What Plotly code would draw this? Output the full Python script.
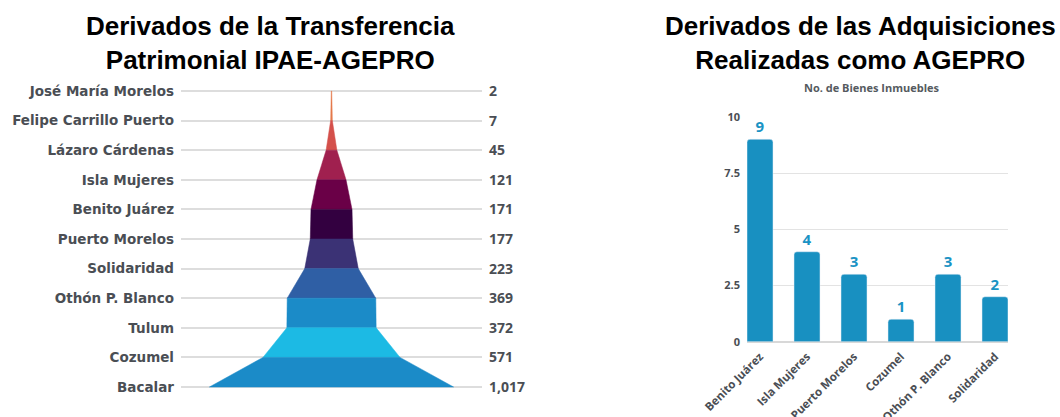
import plotly.graph_objects as go

# ---------------- data ----------------
funnel_cats = ["José María Morelos", "Felipe Carrillo Puerto", "Lázaro Cárdenas",
               "Isla Mujeres", "Benito Juárez", "Puerto Morelos", "Solidaridad",
               "Othón P. Blanco", "Tulum", "Cozumel", "Bacalar"]
funnel_vals = [2, 7, 45, 121, 171, 177, 223, 369, 372, 571, 1017]
segment_colors = ["#e4784a", "#d4504b", "#a0204f", "#6a0047", "#330040",
                  "#3b3275", "#2f5fa5", "#1b8bc8", "#1cbae4", "#1b8bc8"]

bar_cats = ["Benito Juárez", "Isla Mujeres", "Puerto Morelos", "Cozumel",
            "Othón P. Blanco", "Solidaridad"]
bar_vals = [9, 4, 3, 1, 3, 2]
bar_ticks = [0, 2.5, 5, 7.5, 10]
bar_tick_text = ["0", "2.5", "5", "7.5", "10"]

title_left = "Derivados de la Transferencia<br>Patrimonial IPAE-AGEPRO"
title_right = "Derivados de las Adquisiciones<br>Realizadas como AGEPRO"
subtitle_right = "No. de Bienes Inmuebles"

W, H = 1060, 417
name_font = dict(family="DejaVu Sans", size=13.5, color="#4a4e54", weight="bold")
value_font = dict(family="Open Sans", size=14, color="#4a4e54", weight="bold")

fig = go.Figure()

n = len(funnel_vals)
ypos = [n - 1 - k for k in range(n)]
for k in range(n - 1):
    v0, v1 = funnel_vals[k], funnel_vals[k + 1]
    y0, y1 = ypos[k], ypos[k + 1]
    fig.add_trace(go.Scatter(
        x=[-v0 / 2, v0 / 2, v1 / 2, -v1 / 2, -v0 / 2],
        y=[y0, y0, y1, y1, y0],
        mode="lines", fill="toself", fillcolor=segment_colors[k],
        line=dict(width=0.5, color=segment_colors[k]),
        hoverinfo="skip", xaxis="x", yaxis="y", showlegend=False))

# dummy trace for the right-hand value axis
fig.add_trace(go.Scatter(x=[0], y=[0], mode="markers", marker=dict(opacity=0),
                         xaxis="x", yaxis="y2", hoverinfo="skip", showlegend=False))

fig.add_trace(go.Bar(
    x=bar_cats, y=bar_vals, xaxis="x3", yaxis="y3",
    marker=dict(color="#1890c1", cornerradius=3),
    width=0.553,
    text=[str(v) for v in bar_vals], textposition="outside",
    textfont=dict(family="Open Sans", size=15, color="#1a93c4", weight="bold"),
    cliponaxis=False, showlegend=False))

ydom = [(H - 401.8) / H, (H - 76.2) / H]
fig.update_layout(
    width=W, height=H, margin=dict(l=0, r=0, t=0, b=0, autoexpand=False),
    paper_bgcolor="white", plot_bgcolor="white", showlegend=False,
    xaxis=dict(domain=[181 / W, 482 / W], range=[-627, 627], visible=False,
               fixedrange=True, automargin=False),
    yaxis=dict(domain=ydom, anchor="x", range=[-0.5, n - 0.5],
               tickvals=ypos, ticktext=funnel_cats, tickfont=name_font,
               showgrid=True, gridcolor="#dddddd", gridwidth=1.8,
               zeroline=False, showline=False, ticks="", ticklabelstandoff=6,
               automargin=False),
    yaxis2=dict(overlaying="y", side="right", anchor="x", range=[-0.5, n - 0.5],
                tickvals=ypos, ticktext=[f"{v:,}" for v in funnel_vals],
                tickfont=value_font, showgrid=False, zeroline=False,
                showline=False, ticks="", ticklabelstandoff=6, automargin=False),
    xaxis3=dict(domain=[747 / W, 1008 / W], anchor="y3", type="category",
                range=[-0.2766, 5.2766], tickangle=-45,
                tickfont=dict(family="Open Sans", size=11.5, color="#4a4e54", weight="bold"),
                showgrid=False, zeroline=False, showline=False, ticks="",
                ticklabelstandoff=5, automargin=False),
    yaxis3=dict(domain=[(H - 341.7) / H, (H - 116.8) / H], anchor="x3",
                range=[0, 10], tickvals=bar_ticks, ticktext=bar_tick_text,
                tickfont=dict(family="Open Sans", size=11, color="#4a4e54", weight="bold"),
                showgrid=True, gridcolor="#e3e3e3", gridwidth=1,
                zeroline=True, zerolinecolor="#d8d8d8", zerolinewidth=1.5,
                ticks="", ticklabelstandoff=6, automargin=False),
    annotations=[
        dict(text=title_left, x=270 / W, y=1 - 9 / H, xref="paper", yref="paper",
             xanchor="center", yanchor="top", showarrow=False,
             font=dict(family="Liberation Sans", size=26, color="black", weight="bold")),
        dict(text=title_right, x=860 / W, y=1 - 9 / H, xref="paper", yref="paper",
             xanchor="center", yanchor="top", showarrow=False,
             font=dict(family="Liberation Sans", size=26, color="black", weight="bold")),
        dict(text=subtitle_right, x=872 / W, y=(H - 87) / H, xref="paper", yref="paper",
             xanchor="center", yanchor="middle", showarrow=False,
             font=dict(family="Open Sans", size=11, color="#555a60", weight="bold")),
    ],
)

fig.write_html("out.html", config={"displayModeBar": False},
               post_script="document.body.style.margin='0';document.body.style.padding='0';")
